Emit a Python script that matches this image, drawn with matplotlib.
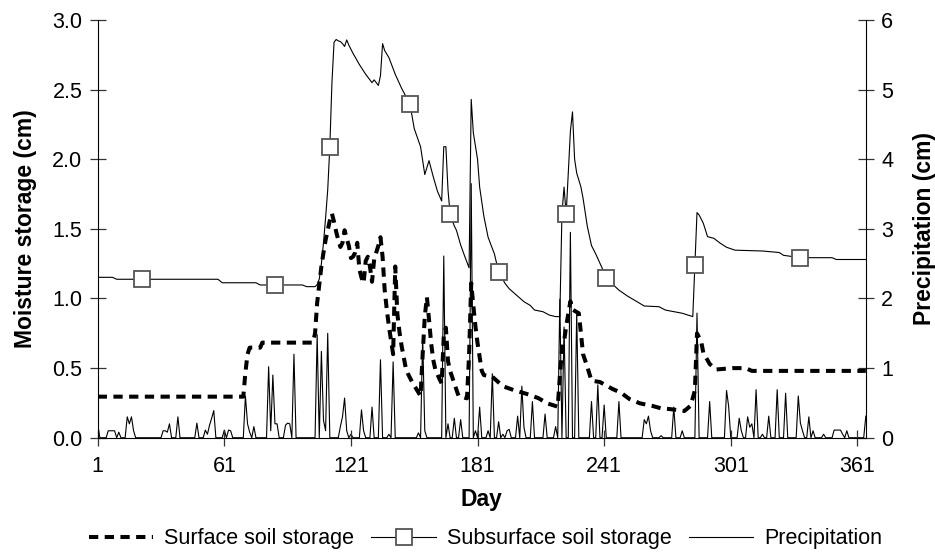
import numpy as np
import matplotlib
matplotlib.use("Agg")
import matplotlib.pyplot as plt

plt.rcParams['font.family'] = ['Liberation Sans', 'DejaVu Sans']

# Surface soil storage (cm), left axis
surf_days = [1, 70, 71, 72, 73, 78, 79, 103, 104, 105, 106, 107, 108, 109, 110, 111, 112, 113,
             114, 115, 116, 117, 118, 119, 120, 121, 122, 123, 124, 125, 126, 127, 128, 129, 130,
             131, 132, 133, 134, 135, 136, 137, 138, 139, 140, 141, 142, 143, 144, 145, 146, 147,
             148, 150, 152, 154, 155, 156, 157, 158, 159, 160, 161, 163, 164, 165, 166, 167, 168,
             170, 172, 176, 177, 178, 179, 180, 181, 182, 183, 184, 188, 193, 198, 206, 210, 214,
             219, 220, 221, 222, 223, 225, 226, 229, 230, 231, 233, 235, 239, 245, 249, 253, 258,
             264, 268, 272, 279, 282, 284, 285, 287, 288, 291, 294, 302, 308, 311, 365]
surf_cm = [0.295, 0.295, 0.47, 0.60, 0.647, 0.647, 0.683, 0.683, 0.75, 0.97, 1.10, 1.23, 1.33,
           1.42, 1.49, 1.56, 1.61, 1.55, 1.48, 1.42, 1.37, 1.40, 1.49, 1.43, 1.38, 1.29, 1.30,
           1.33, 1.40, 1.21, 1.15, 1.11, 1.27, 1.30, 1.23, 1.12, 1.28, 1.33, 1.38, 1.44, 1.30,
           1.06, 0.92, 0.80, 0.70, 0.60, 1.23, 0.89, 0.76, 0.66, 0.58, 0.50, 0.46, 0.40, 0.35,
           0.30, 0.60, 0.87, 1.01, 0.85, 0.68, 0.56, 0.49, 0.42, 0.39, 0.73, 0.79, 0.55, 0.48,
           0.39, 0.30, 0.283, 0.60, 1.11, 0.95, 0.80, 0.68, 0.58, 0.48, 0.45, 0.438, 0.37, 0.343,
           0.307, 0.283, 0.247, 0.223, 0.44, 0.63, 0.69, 0.80, 0.98, 0.92, 0.894, 0.75, 0.60,
           0.51, 0.41, 0.40, 0.35, 0.323, 0.278, 0.247, 0.228, 0.211, 0.206, 0.192, 0.23, 0.34,
           0.75, 0.69, 0.61, 0.53, 0.49, 0.50, 0.50, 0.48, 0.48]

# Subsurface soil storage (cm), left axis
sub_days = [1, 8, 10, 22, 58, 60, 76, 78, 85, 98, 100, 104, 105, 106, 107, 108, 109, 110, 111,
            112, 113, 114, 115, 116, 117, 118, 119, 120, 122, 125, 128, 131, 132, 134, 135, 136,
            137, 139, 142, 145, 149, 151, 154, 156, 158, 160, 162, 164, 165, 166, 167, 168, 170,
            171, 173, 175, 177, 178, 179, 181, 182, 184, 186, 189, 191, 194, 196, 199, 203, 206,
            208, 212, 215, 218, 220, 221, 222, 223, 224, 225, 226, 227, 228, 229, 230, 231, 232,
            233, 234, 235, 237, 240, 242, 248, 252, 260, 267, 270, 278, 283, 284, 285, 286, 288,
            290, 293, 296, 299, 303, 316, 324, 326, 334, 349, 351, 365]
sub_cm = [1.152, 1.152, 1.138, 1.138, 1.138, 1.113, 1.113, 1.097, 1.097, 1.097, 1.085, 1.085,
          1.10, 1.14, 1.25, 1.40, 1.58, 1.78, 2.09, 2.55, 2.84, 2.86, 2.85, 2.845, 2.83, 2.81,
          2.857, 2.82, 2.76, 2.68, 2.61, 2.55, 2.57, 2.53, 2.60, 2.83, 2.78, 2.73, 2.61, 2.51,
          2.395, 2.22, 2.09, 1.89, 1.99, 1.875, 1.77, 1.70, 2.09, 2.09, 1.78, 1.605, 1.52, 1.49,
          1.384, 1.30, 1.22, 2.43, 2.19, 2.0, 1.80, 1.59, 1.44, 1.32, 1.19, 1.109, 1.07, 1.03,
          0.977, 0.95, 0.917, 0.905, 0.881, 0.87, 0.87, 1.61, 1.80, 1.605, 1.90, 2.20, 2.34,
          2.0, 1.90, 1.85, 1.80, 1.72, 1.62, 1.52, 1.45, 1.38, 1.32, 1.22, 1.145, 1.06, 1.018,
          0.946, 0.941, 0.917, 0.894, 0.87, 1.24, 1.617, 1.60, 1.54, 1.444, 1.432, 1.397,
          1.368, 1.347, 1.341, 1.33, 1.31, 1.293, 1.293, 1.28, 1.28]
marker_days = [22, 85, 111, 149, 168, 191, 223, 242, 284, 334]

# Precipitation (cm), right axis: rain days and amounts, other days are 0
rain_days = [1, 6, 7, 8, 9, 11, 15, 16, 17, 18, 32, 33, 34, 35, 39, 48, 52, 53, 54, 55, 56,
             61, 63, 64, 71, 72, 73, 75, 82, 83, 84, 85, 86, 90, 91, 92, 94, 105, 107, 108, 109,
             110, 116, 117, 118, 119, 121, 126, 127, 131, 135, 139, 141, 153, 155, 156, 165, 167,
             170, 173, 178, 180, 182, 186, 188, 191, 193, 195, 196, 200, 202, 203, 207, 213, 218,
             220, 222, 225, 228, 235, 238, 241, 248, 260, 261, 262, 263, 268, 274, 278, 285, 291,
             299, 300, 305, 306, 309, 310, 311, 313, 316, 319, 323, 327, 333, 334, 335, 338, 340,
             345, 350, 351, 352, 353, 354, 356, 365]
rain_cm = [0.2, 0.1, 0.1, 0.1, 0.1, 0.08, 0.3, 0.2, 0.3, 0.1, 0.1, 0.1, 0.08, 0.2, 0.3, 0.21,
           0.11, 0.05, 0.18, 0.28, 0.39, 0.11, 0.11, 0.1, 0.6, 0.2, 0.08, 0.16, 1.02, 0.1, 0.9,
           0.2, 0.2, 0.18, 0.21, 0.2, 1.2, 1.48, 1.24, 0.25, 0.1, 1.5, 0.16, 0.3, 0.57, 0.1,
           0.05, 0.4, 0.1, 0.44, 1.12, 0.05, 1.09, 0.07, 1.46, 0.1, 2.61, 0.2, 0.28, 0.26, 3.65,
           0.1, 0.44, 0.1, 0.92, 0.23, 0.05, 0.1, 0.12, 0.31, 0.74, 0.15, 0.52, 0.34, 0.16, 1.99,
           1.59, 2.95, 1.8, 0.52, 0.76, 0.47, 0.52, 0.26, 0.2, 0.31, 0.1, 0.03, 0.44, 0.1, 1.79,
           0.52, 0.68, 0.45, 0.28, 0.1, 0.3, 0.15, 0.2, 0.69, 0.05, 0.31, 0.69, 0.64, 0.6, 0.21,
           0.1, 0.3, 0.1, 0.05, 0.11, 0.11, 0.11, 0.11, 0.05, 0.1, 0.31]

days = np.arange(1, 366)
precip = np.zeros(len(days))
precip[np.array(rain_days) - 1] = rain_cm

fig = plt.figure(figsize=(9.35, 5.52), dpi=100)
ax = fig.add_axes([0.1045, 0.207, 0.926 - 0.1045, 0.9638 - 0.207])
ax2 = ax.twinx()
ax.set_zorder(ax2.get_zorder() + 1)
ax.patch.set_visible(False)

p_line, = ax2.plot(days, precip, color='black', lw=0.8, label='Precipitation')

s_line, = ax.plot(surf_days, surf_cm, color='black', lw=2.9, dashes=(2.3, 1.6),
                  label='Surface soil storage')
mk = [sub_days.index(d) for d in marker_days]
u_line, = ax.plot(sub_days, sub_cm, color='black', lw=0.8, marker='s', markevery=mk,
                  markersize=11, markerfacecolor='white', markeredgecolor='#555555',
                  markeredgewidth=1.3, label='Subsurface soil storage')

ax.set_xlim(1, 365)
ax.set_ylim(0, 3.0)
ax2.set_ylim(0, 6)
ax.set_xticks([1, 61, 121, 181, 241, 301, 361])
ax.set_yticks(np.arange(0, 3.01, 0.5))
ax.set_yticklabels([f"{v:.1f}" for v in np.arange(0, 3.01, 0.5)])
ax2.set_yticks(range(0, 7))

for a in (ax, ax2):
    a.spines['top'].set_visible(False)
    a.tick_params(direction='inout', length=11, width=0.9, labelsize=15.5, pad=5.5,
                  color='#333333')
ax.tick_params(axis='x', pad=7.5)
ax.spines['right'].set_visible(False)
ax2.spines['left'].set_visible(False)
ax2.spines['bottom'].set_visible(False)

ax.set_xlabel('Day', fontsize=16.5, fontweight='bold', labelpad=8)
ax.set_ylabel('Moisture storage (cm)', fontsize=16.5, fontweight='bold', labelpad=11)
ax2.set_ylabel('Precipitation (cm)', fontsize=16.5, fontweight='bold', labelpad=14)

fig.legend(handles=[s_line, u_line, p_line], loc='center', bbox_to_anchor=(0.519, 0.024),
           ncol=3, frameon=False, fontsize=15.5, handlelength=3.0, columnspacing=0.8,
           handletextpad=0.5, numpoints=1, borderpad=0.2)

fig.savefig('out.png', dpi=100)
